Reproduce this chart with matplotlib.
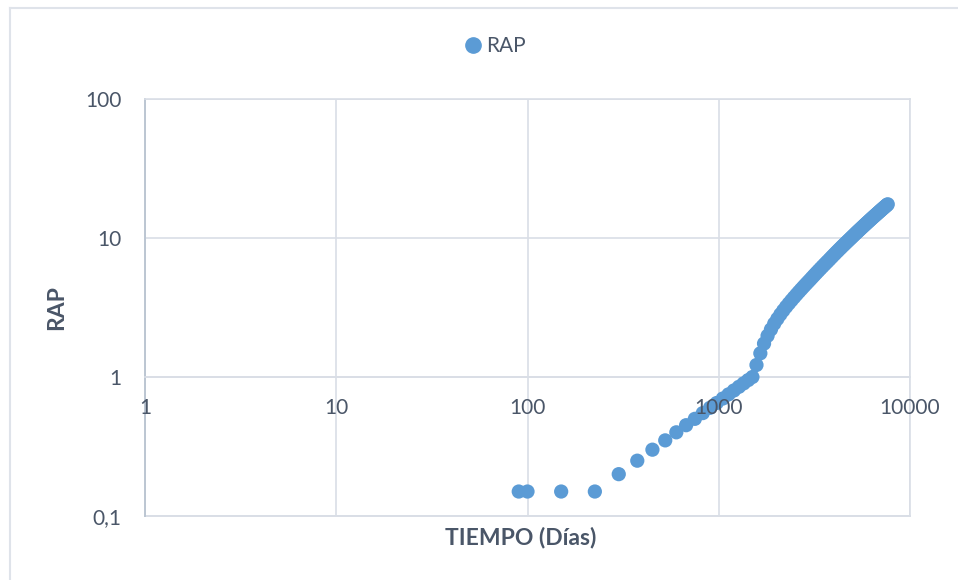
import matplotlib.pyplot as plt
from matplotlib.lines import Line2D

# Datos (tiempo en dias, RAP)
tiempo = [90, 100, 150, 225, 300, 375, 450, 525, 600, 675, 750, 825, 900, 975,
          1050, 1125, 1200, 1275, 1350, 1425, 1500,
          1575, 1650, 1725, 1800, 1875, 1950, 2025, 2100, 2175, 2250,
          2325, 2400, 2475, 2550, 2625, 2700, 2775, 2850, 2925, 3000,
          3075, 3150, 3225, 3300, 3375, 3450, 3525, 3600, 3675, 3750,
          3825, 3900, 3975, 4050, 4125, 4200, 4275, 4350, 4425, 4500,
          4575, 4650, 4725, 4800, 4875, 4950, 5025, 5100, 5175, 5250,
          5325, 5400, 5475, 5550, 5625, 5700, 5775, 5850, 5925, 6000,
          6075, 6150, 6225, 6300, 6375, 6450, 6525, 6600, 6675, 6750,
          6825, 6900, 6975, 7050, 7125, 7200, 7275, 7350, 7425, 7500,
          7575, 7650]
rap = [0.15, 0.15, 0.15, 0.15, 0.20, 0.25, 0.30, 0.35, 0.40, 0.45, 0.50, 0.55, 0.60, 0.65,
       0.70, 0.75, 0.80, 0.85, 0.90, 0.95, 1.00,
       1.22, 1.48, 1.74, 1.98, 2.20, 2.42, 2.62, 2.82, 3.01, 3.20,
       3.38, 3.56, 3.74, 3.92, 4.10, 4.28, 4.46, 4.64, 4.82, 5.00,
       5.19, 5.38, 5.57, 5.76, 5.95, 6.14, 6.33, 6.52, 6.71, 6.90,
       7.10, 7.30, 7.50, 7.70, 7.90, 8.10, 8.30, 8.50, 8.70, 8.90,
       9.10, 9.30, 9.50, 9.70, 9.90, 10.10, 10.31, 10.51, 10.72, 10.92,
       11.13, 11.33, 11.54, 11.74, 11.95, 12.15, 12.36, 12.56, 12.77, 12.97,
       13.18, 13.38, 13.59, 13.79, 14.00, 14.20, 14.41, 14.61, 14.82, 15.02,
       15.23, 15.43, 15.64, 15.84, 16.05, 16.25, 16.46, 16.66, 16.87, 17.07,
       17.28, 17.48]
xticks = [1, 10, 100, 1000, 10000]
xlabels = ['1', '10', '100', '1000', '10000']
yticks = [0.1, 1, 10, 100]
ylabels = ['0,1', '1', '10', '100']

azul = '#5b9bd5'
texto = '#4a5668'
grid = '#d9dee6'

plt.rcParams['font.family'] = ['Lato', 'DejaVu Sans']

fig = plt.figure(figsize=(9.58, 5.80), dpi=100)
ax = fig.add_axes([145 / 958, 1 - 516 / 580, (910 - 145) / 958, (516 - 99) / 580])

ax.scatter(tiempo, rap, s=105, color=azul, edgecolors='none', zorder=3, clip_on=False)

ax.set_xscale('log')
ax.set_yscale('log')
ax.set_xlim(1, 10000)
ax.set_ylim(0.1, 100)
ax.set_xticks(xticks)
ax.set_xticklabels([])
ax.set_yticks(yticks)
ax.set_yticklabels(ylabels)
ax.minorticks_off()
ax.tick_params(length=0, labelsize=15, labelcolor=texto)
ax.tick_params(axis='y', pad=17)

# etiquetas del eje x (el eje cruza en RAP = 1), por encima de los puntos
for xv, lab in zip(xticks, xlabels):
    ax.annotate(lab, (xv, 1), xytext=(0, -31), textcoords='offset pixels',
                ha='center', va='center', fontsize=15, color=texto,
                zorder=5, annotation_clip=False)

ax.grid(True, color=grid, linewidth=1.2, zorder=0)
ax.set_axisbelow(True)

ax.spines['bottom'].set_position(('data', 1))
ax.spines['bottom'].set_color(grid)
ax.spines['top'].set_color(grid)
ax.spines['right'].set_color(grid)
ax.spines['left'].set_color('#bcc6d2')
ax.spines['left'].set_linewidth(1.4)
for s in ['top', 'right', 'bottom']:
    ax.spines[s].set_linewidth(1.2)
ax.axhline(0.1, color=grid, linewidth=1.4, clip_on=False, zorder=0)

fig.text(521 / 958, 1 - 537 / 580, 'TIEMPO (Días)', ha='center', va='center',
         fontsize=16.5, fontweight='bold', color=texto)
fig.text(57 / 958, 1 - 308 / 580, 'RAP', ha='center', va='center', rotation=90,
         fontsize=16.5, fontweight='bold', color=texto)

handle = Line2D([], [], marker='o', linestyle='none', color=azul, markersize=11)
fig.legend([handle], ['RAP'], loc='center', bbox_to_anchor=(494 / 958, 1 - 46 / 580),
           frameon=False, fontsize=15, labelcolor=texto, handletextpad=0.1,
           handlelength=1.0)

# borde del area del grafico
fig.add_artist(Line2D([10 / 958, 10 / 958], [0, 1 - 8 / 580], color='#dfe3ea', linewidth=1.5))
fig.add_artist(Line2D([10 / 958, 1], [1 - 8 / 580, 1 - 8 / 580], color='#dfe3ea', linewidth=1.5))

fig.savefig('out.png', dpi=100, facecolor='white')
